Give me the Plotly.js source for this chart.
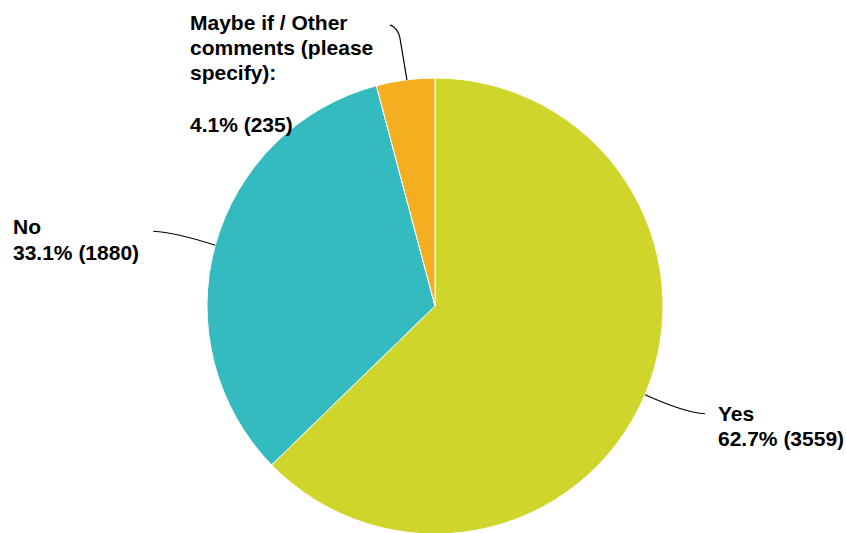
<!DOCTYPE html>
<html>
<head>
<meta charset="utf-8">
<script src="https://cdn.plot.ly/plotly-3.0.1.min.js"></script>
<style>
html,body{margin:0;padding:0;overflow:hidden;background:#fff;}
#chart{width:846px;height:540px;}
</style>
</head>
<body>
<div id="chart"></div>
<script>
// Data
var categories = ["Yes", "No", "Maybe if / Other comments (please specify):"];
var labelLines = [["Yes"], ["No"], ["Maybe if / Other", "comments (please", "specify):", ""]];
var counts = [3559, 1880, 235];
var percents = [62.7, 33.1, 4.1];
var colors = ["#CFD52A", "#33BBBF", "#F5AE1F"];

// Layout geometry (pixels)
var W = 846, H = 540;
var M = {l: 207, r: 183, t: 78, b: 6};
var PW = W - M.l - M.r, PH = H - M.t - M.b;
var R = Math.min(PW, PH) / 2;
var CX = M.l + PW / 2, CY = M.t + PH / 2;
function px(x) { return (x - M.l) / PW; }
function py(y) { return 1 - (y - M.t) / PH; }

var total = counts.reduce(function (a, b) { return a + b; }, 0);
// mid angle of slice i (clockwise from 12 o'clock)
function edgePoint(i) {
  var before = 0;
  for (var k = 0; k < i; k++) before += counts[k];
  var frac = (before + counts[i] / 2) / total;
  var a = frac * 2 * Math.PI;
  return [CX + R * Math.sin(a), CY - R * Math.cos(a)];
}

// label styling: leader offsets (relative to slice edge) and text anchors
var leader = [
  function (p) { return "M" + px(p[0]) + "," + py(p[1]) + " Q" + px(p[0] + 40) + "," + py(p[1] + 18) + " " + px(p[0] + 60) + "," + py(p[1] + 19); },
  function (p) { return "M" + px(p[0]) + "," + py(p[1]) + " Q" + px(p[0] - 40) + "," + py(p[1] - 13) + " " + px(p[0] - 62) + "," + py(p[1] - 14); },
  function (p) { return "M" + px(p[0] + 1.5) + "," + py(p[1]) + " L" + px(p[0] - 5.5) + "," + py(p[1] - 42) + " Q" + px(p[0] - 7.5) + "," + py(p[1] - 52) + " " + px(p[0] - 15.5) + "," + py(p[1] - 55); }
];
var textPos = [
  {x: 716, y: 413},
  {x: 11, y: 227},
  {x: 188, y: 22}
];
var lineGap = 25.5;

var shapes = [], annotations = [];
for (var i = 0; i < categories.length; i++) {
  var p = edgePoint(i);
  shapes.push({type: "path", xref: "paper", yref: "paper", path: leader[i](p),
    line: {color: "#000", width: 1.2}});
  var lines = labelLines[i].concat([percents[i].toFixed(1) + "% (" + counts[i] + ")"]);
  for (var j = 0; j < lines.length; j++) {
    if (!lines[j]) continue;
    annotations.push({
      xref: "paper", yref: "paper",
      x: px(textPos[i].x), y: py(textPos[i].y + j * lineGap),
      xanchor: "left", yanchor: "middle", showarrow: false, align: "left",
      text: "<b>" + lines[j] + "</b>",
      font: {family: "Liberation Sans, Arial, sans-serif", size: 21, color: "#000"}
    });
  }
}

var trace = {
  type: "pie",
  labels: categories,
  values: counts,
  sort: false,
  direction: "clockwise",
  rotation: 0,
  textinfo: "none",
  hoverinfo: "label+value+percent",
  marker: {colors: colors, line: {color: "#fff", width: 1}},
  showlegend: false
};

var layout = {
  width: W, height: H,
  margin: M,
  paper_bgcolor: "#fff",
  showlegend: false,
  shapes: shapes,
  annotations: annotations
};

Plotly.newPlot("chart", [trace], layout, {displayModeBar: false, staticPlot: true});
</script>
</body>
</html>
